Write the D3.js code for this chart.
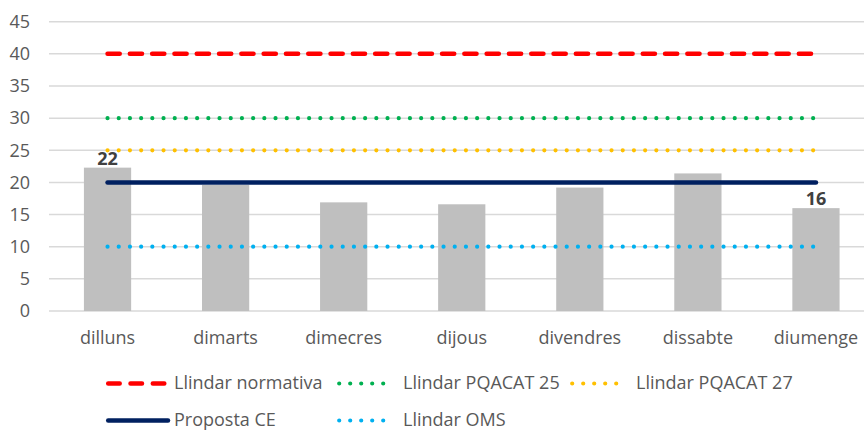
<!DOCTYPE html>
<html>
<head>
<meta charset="utf-8">
<script src="https://cdn.jsdelivr.net/npm/d3@7"></script>
<style>
body { margin: 0; background: #fff; }
text { font-family: "Open Sans", "Liberation Sans", sans-serif; }
</style>
</head>
<body>
<div class="chart"></div>
<script>
var width = 864, height = 432;

var days = ["dilluns", "dimarts", "dimecres", "dijous", "divendres", "dissabte", "diumenge"];
var values = [22.3, 19.6, 16.9, 16.6, 19.2, 21.4, 16.0];
var labelsShown = ["22", "", "", "", "", "", "16"];
var yTicks = [0, 5, 10, 15, 20, 25, 30, 35, 40, 45];

var thresholdNames = ["Llindar normativa", "Llindar PQACAT 25", "Llindar PQACAT 27", "Proposta CE", "Llindar OMS"];
var thresholdValues = [40, 30, 25, 20, 10];
var thresholdColors = ["#ff0000", "#00b050", "#ffc000", "#002060", "#00b0f0"];
var thresholdType = ["dash", "dot", "dot", "solid", "dot"];

var svg = d3.select(".chart").append("svg")
  .attr("width", width)
  .attr("height", height)
  .style("display", "block");

var x = d3.scaleBand()
  .domain(days)
  .range([48.5, 875])
  .paddingInner(0.6)
  .paddingOuter(0.3);

var y = d3.scaleLinear()
  .domain([0, 45])
  .range([311, 21.7]);

function dashFor(t, legend) {
  if (t == "dash") return legend ? "11.5,10.8" : "12.2,10.1";
  if (t == "dot") return legend ? "0,11" : "0,11.2";
  return null;
}

// gridlines
svg.append("g")
  .selectAll("line")
  .data(yTicks)
  .enter().append("line")
  .attr("x1", 49)
  .attr("x2", width)
  .attr("y1", function(d) { return y(d); })
  .attr("y2", function(d) { return y(d); })
  .attr("stroke", "#d9d9d9")
  .attr("stroke-width", 1.5);

// y tick labels
svg.append("g")
  .selectAll("text")
  .data(yTicks)
  .enter().append("text")
  .attr("x", 30)
  .attr("y", function(d) { return y(d); })
  .attr("dy", "0.35em")
  .attr("text-anchor", "end")
  .attr("fill", "#595959")
  .attr("font-size", "18px")
  .text(function(d) { return d; });

// bars
svg.append("g")
  .selectAll("rect")
  .data(values)
  .enter().append("rect")
  .attr("x", function(d, i) { return x(days[i]); })
  .attr("width", x.bandwidth())
  .attr("y", function(d) { return y(d); })
  .attr("height", function(d) { return y(0) - y(d); })
  .attr("fill", "#bfbfbf");

// threshold lines
var cx0 = x(days[0]) + x.bandwidth() / 2;
var cx1 = x(days[days.length - 1]) + x.bandwidth() / 2;
svg.append("g")
  .selectAll("line")
  .data(thresholdValues)
  .enter().append("line")
  .attr("x1", cx0)
  .attr("x2", cx1)
  .attr("y1", function(d) { return y(d); })
  .attr("y2", function(d) { return y(d); })
  .attr("stroke", function(d, i) { return thresholdColors[i]; })
  .attr("stroke-width", function(d, i) { return thresholdType[i] == "dot" ? 4.2 : 4.5; })
  .attr("stroke-linecap", "round")
  .attr("stroke-dasharray", function(d, i) { return dashFor(thresholdType[i], false); });

// data labels
svg.append("g")
  .selectAll("text")
  .data(values)
  .enter().append("text")
  .attr("x", function(d, i) { return x(days[i]) + x.bandwidth() / 2; })
  .attr("y", function(d) { return y(d) - 3; })
  .attr("text-anchor", "middle")
  .attr("fill", "#404040")
  .attr("font-size", "18px")
  .attr("font-weight", "bold")
  .text(function(d, i) { return labelsShown[i]; });

// x axis labels
svg.append("g")
  .selectAll("text")
  .data(days)
  .enter().append("text")
  .attr("x", function(d) { return x(d) + x.bandwidth() / 2; })
  .attr("y", 338)
  .attr("dy", "0.35em")
  .attr("text-anchor", "middle")
  .attr("fill", "#595959")
  .attr("font-size", "18px")
  .text(function(d) { return d; });

// legend
var legendPos = [[106, 383.5], [337, 383.5], [570, 383.5], [106, 420.5], [337, 420.5]];
var legend = svg.append("g")
  .selectAll("g")
  .data(thresholdNames)
  .enter().append("g")
  .attr("transform", function(d, i) { return "translate(" + legendPos[i][0] + "," + legendPos[i][1] + ")"; });

legend.append("line")
  .attr("x1", 2.2)
  .attr("x2", function(d, i) { return thresholdType[i] == "dot" ? 57.2 : 62; })
  .attr("y1", 0)
  .attr("y2", 0)
  .attr("stroke", function(d, i) { return thresholdColors[i]; })
  .attr("stroke-width", function(d, i) { return thresholdType[i] == "dot" ? 4.2 : 4.5; })
  .attr("stroke-linecap", "round")
  .attr("stroke-dasharray", function(d, i) { return dashFor(thresholdType[i], true); });

legend.append("text")
  .attr("x", function(d, i) { return thresholdType[i] == "dot" ? 66 : 68; })
  .attr("y", 0)
  .attr("dy", "0.32em")
  .attr("fill", "#595959")
  .attr("font-size", "18px")
  .text(function(d) { return d; });
</script>
</body>
</html>
